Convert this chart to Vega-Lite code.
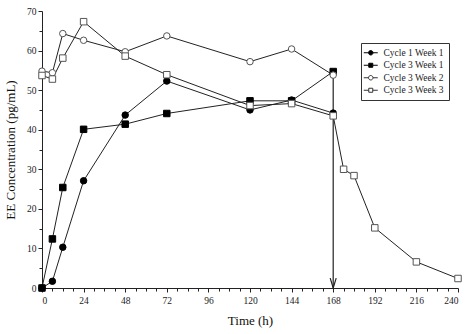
{
  "$schema": "https://vega.github.io/schema/vega-lite/v6.json",
  "width": 416,
  "height": 277,
  "autosize": {"type": "none"},
  "padding": {"left": 42, "top": 11, "right": 13, "bottom": 46},
  "background": "white",
  "config": {
    "view": {"stroke": null},
    "font": "Liberation Serif",
    "axis": {
      "domainColor": "#222",
      "tickColor": "#222",
      "labelColor": "#222",
      "titleColor": "#111",
      "labelFont": "Liberation Serif",
      "titleFont": "Liberation Serif",
      "labelFontSize": 9.5,
      "titleFontSize": 13,
      "titleFontWeight": "normal",
      "grid": false
    },
    "legend": {
      "labelFont": "Liberation Serif",
      "labelFontSize": 9.5,
      "labelColor": "#222"
    }
  },
  "datasets": {
    "series": [
      {"t": 0, "v": 0, "s": "Cycle 1 Week 1"},
      {"t": 6, "v": 1.7, "s": "Cycle 1 Week 1"},
      {"t": 12, "v": 10.3, "s": "Cycle 1 Week 1"},
      {"t": 24, "v": 27.1, "s": "Cycle 1 Week 1"},
      {"t": 48, "v": 43.7, "s": "Cycle 1 Week 1"},
      {"t": 72, "v": 52.3, "s": "Cycle 1 Week 1"},
      {"t": 120, "v": 45.0, "s": "Cycle 1 Week 1"},
      {"t": 144, "v": 47.5, "s": "Cycle 1 Week 1"},
      {"t": 168, "v": 44.2, "s": "Cycle 1 Week 1"},
      {"t": 0, "v": 0, "s": "Cycle 3 Week 1"},
      {"t": 6, "v": 12.4, "s": "Cycle 3 Week 1"},
      {"t": 12, "v": 25.4, "s": "Cycle 3 Week 1"},
      {"t": 24, "v": 40.1, "s": "Cycle 3 Week 1"},
      {"t": 48, "v": 41.4, "s": "Cycle 3 Week 1"},
      {"t": 72, "v": 44.1, "s": "Cycle 3 Week 1"},
      {"t": 120, "v": 47.3, "s": "Cycle 3 Week 1"},
      {"t": 144, "v": 47.3, "s": "Cycle 3 Week 1"},
      {"t": 168, "v": 54.7, "s": "Cycle 3 Week 1"},
      {"t": 0, "v": 54.8, "s": "Cycle 3 Week 2"},
      {"t": 6, "v": 54.4, "s": "Cycle 3 Week 2"},
      {"t": 12, "v": 64.3, "s": "Cycle 3 Week 2"},
      {"t": 24, "v": 62.6, "s": "Cycle 3 Week 2"},
      {"t": 48, "v": 59.7, "s": "Cycle 3 Week 2"},
      {"t": 72, "v": 63.7, "s": "Cycle 3 Week 2"},
      {"t": 120, "v": 57.2, "s": "Cycle 3 Week 2"},
      {"t": 144, "v": 60.4, "s": "Cycle 3 Week 2"},
      {"t": 168, "v": 53.8, "s": "Cycle 3 Week 2"},
      {"t": 0, "v": 53.7, "s": "Cycle 3 Week 3"},
      {"t": 6, "v": 52.8, "s": "Cycle 3 Week 3"},
      {"t": 12, "v": 58.1, "s": "Cycle 3 Week 3"},
      {"t": 24, "v": 67.3, "s": "Cycle 3 Week 3"},
      {"t": 48, "v": 58.6, "s": "Cycle 3 Week 3"},
      {"t": 72, "v": 53.9, "s": "Cycle 3 Week 3"},
      {"t": 120, "v": 46.1, "s": "Cycle 3 Week 3"},
      {"t": 144, "v": 46.6, "s": "Cycle 3 Week 3"},
      {"t": 168, "v": 43.5, "s": "Cycle 3 Week 3"},
      {"t": 174, "v": 30.0, "s": "Cycle 3 Week 3"},
      {"t": 180, "v": 28.4, "s": "Cycle 3 Week 3"},
      {"t": 192, "v": 15.2, "s": "Cycle 3 Week 3"},
      {"t": 216, "v": 6.6, "s": "Cycle 3 Week 3"},
      {"t": 240, "v": 2.4, "s": "Cycle 3 Week 3"}
    ],
    "arrow": [
      {"t": 168, "top": 54.7, "bottom": 0}
    ]
  },
  "layer": [
    {
      "data": {"name": "series"},
      "mark": {"type": "line", "color": "#222", "strokeWidth": 1},
      "encoding": {
        "x": {
          "field": "t", "type": "quantitative",
          "scale": {"domain": [0, 240], "nice": false, "zero": false},
          "axis": {"title": "Time (h)", "values": [0, 24, 48, 72, 96, 120, 144, 168, 192, 216, 240], "tickSize": 4, "labelPadding": 3, "titlePadding": 10, "orient": "bottom"}
        },
        "y": {
          "field": "v", "type": "quantitative",
          "scale": {"domain": [0, 70], "nice": false},
          "axis": {"title": "EE Concentration (pg/mL)", "values": [0, 10, 20, 30, 40, 50, 60, 70], "tickSize": 4, "labelPadding": 2, "titlePadding": 9, "orient": "left"}
        },
        "detail": {"field": "s"},
        "order": {"field": "t"}
      }
    },
    {
      "data": {"name": "series"},
      "mark": {"type": "point", "opacity": 0},
      "encoding": {
        "x": {
          "field": "t", "type": "quantitative",
          "axis": {"title": null, "labels": false, "domain": false, "tickSize": 3, "orient": "bottom", "values": [6, 12, 18, 30, 36, 42, 54, 60, 66, 78, 84, 90, 102, 108, 114, 126, 132, 138, 150, 156, 162, 174, 180, 186, 198, 204, 210, 222, 228, 234]}
        },
        "y": {
          "field": "v", "type": "quantitative",
          "axis": {"title": null, "labels": false, "domain": false, "tickSize": 3, "orient": "left", "values": [5, 15, 25, 35, 45, 55, 65]}
        }
      }
    },
    {
      "data": {"name": "arrow"},
      "mark": {"type": "rule", "color": "#222", "strokeWidth": 1.2},
      "encoding": {
        "x": {"field": "t", "type": "quantitative", "axis": null},
        "y": {"field": "top", "type": "quantitative", "axis": null},
        "y2": {"field": "bottom"}
      }
    },
    {
      "data": {"name": "arrow"},
      "mark": {"type": "point", "shape": "M-1,-3.3L0,0L1,-3.3", "filled": false, "stroke": "#222", "strokeWidth": 1.2, "size": 36, "opacity": 1},
      "encoding": {
        "x": {"field": "t", "type": "quantitative", "axis": null},
        "y": {"field": "bottom", "type": "quantitative", "axis": null}
      }
    },
    {
      "data": {"name": "series"},
      "mark": {"type": "point", "size": 42, "strokeWidth": 1, "opacity": 1},
      "encoding": {
        "x": {"field": "t", "type": "quantitative", "axis": null},
        "y": {"field": "v", "type": "quantitative", "axis": null},
        "shape": {"field": "s", "type": "nominal", "scale": {"domain": ["Cycle 1 Week 1", "Cycle 3 Week 1", "Cycle 3 Week 2", "Cycle 3 Week 3"], "range": ["circle", "square", "circle", "square"]}, "legend": null},
        "fill": {"field": "s", "type": "nominal", "scale": {"domain": ["Cycle 1 Week 1", "Cycle 3 Week 1", "Cycle 3 Week 2", "Cycle 3 Week 3"], "range": ["#000000", "#000000", "#ffffff", "#ffffff"]}, "legend": null},
        "stroke": {"field": "s", "type": "nominal", "scale": {"domain": ["Cycle 1 Week 1", "Cycle 3 Week 1", "Cycle 3 Week 2", "Cycle 3 Week 3"], "range": ["#000000", "#000000", "#555555", "#555555"]}, "legend": null}
      }
    },
    {
      "data": {"name": "series"},
      "mark": {"type": "point", "size": 64, "strokeWidth": 1, "opacity": 0},
      "encoding": {
        "x": {"field": "t", "type": "quantitative", "axis": null},
        "y": {"field": "v", "type": "quantitative", "axis": null},
        "shape": {
          "field": "s", "type": "nominal", "title": null,
          "scale": {"domain": ["Cycle 1 Week 1", "Cycle 3 Week 1", "Cycle 3 Week 2", "Cycle 3 Week 3"],
            "range": [
              "M-0.56,0A0.56,0.56,0,1,1,0.56,0A0.56,0.56,0,1,1,-0.56,0Z M-1.75,0L-0.56,0 M0.56,0L1.75,0",
              "M-0.5,-0.5H0.5V0.5H-0.5Z M-1.75,0L-0.5,0 M0.5,0L1.75,0",
              "M-0.56,0A0.56,0.56,0,1,1,0.56,0A0.56,0.56,0,1,1,-0.56,0Z M-1.75,0L-0.56,0 M0.56,0L1.75,0",
              "M-0.5,-0.5H0.5V0.5H-0.5Z M-1.75,0L-0.5,0 M0.5,0L1.75,0"
            ]},
          "legend": {
            "orient": "none", "legendX": 319, "legendY": 32,
            "strokeColor": "#333", "padding": 5, "symbolSize": 64, "symbolOpacity": 1,
            "symbolStrokeWidth": 1, "labelOffset": 8, "rowPadding": 1.5, "labelFontSize": 9.5
          }
        },
        "fill": {"field": "s", "type": "nominal", "title": null, "scale": {"domain": ["Cycle 1 Week 1", "Cycle 3 Week 1", "Cycle 3 Week 2", "Cycle 3 Week 3"], "range": ["#000000", "#000000", "#ffffff", "#ffffff"]}},
        "stroke": {"field": "s", "type": "nominal", "title": null, "scale": {"domain": ["Cycle 1 Week 1", "Cycle 3 Week 1", "Cycle 3 Week 2", "Cycle 3 Week 3"], "range": ["#000000", "#000000", "#333333", "#333333"]}}
      }
    }
  ],
  "resolve": {
    "scale": {"shape": "independent", "fill": "independent", "stroke": "independent"},
    "axis": {"x": "independent", "y": "independent"}
  }
}
